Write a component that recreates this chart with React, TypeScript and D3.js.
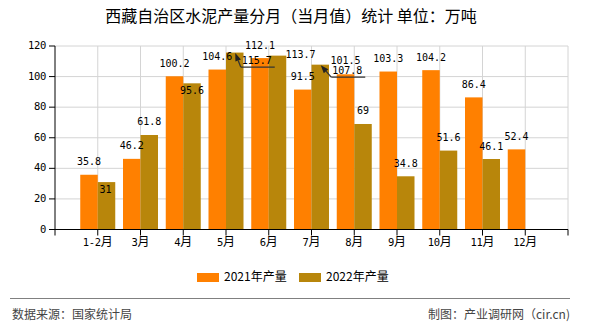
import React from 'react';
import * as d3 from 'd3';

const categories = ['1-2月', '3月', '4月', '5月', '6月', '7月', '8月', '9月', '10月', '11月', '12月'];
const values2021: (number | null)[] = [35.8, 46.2, 100.2, 104.6, 112.1, 91.5, 101.5, 103.3, 104.2, 86.4, 52.4];
const values2022: (number | null)[] = [31, 61.8, 95.6, 115.7, 113.7, 107.8, 69, 34.8, 51.6, 46.1, null];
const yTicks = [0, 20, 40, 60, 80, 100, 120];
const seriesNames = ['2021年产量', '2022年产量'];

const COLORS = ['#FF8000', '#B8860B'];
const NUM_FONT = "'DejaVu Sans Mono', monospace";
const CJK_FONT = "'Noto Sans CJK SC', sans-serif";

// label layout tweaks (collision avoidance in the original)
const labelTweaks: Record<string, { dx: number; dy: number; arrow?: boolean }> = {
  '0-6': { dx: 0, dy: -1 },
  '1-0': { dx: -1, dy: 20.5 },
  '1-2': { dx: 0, dy: 20.5 },
  '1-3': { dx: 22, dy: 21, arrow: true },
  '1-4': { dx: 23, dy: 12 },
  '1-5': { dx: 27, dy: 19, arrow: true },
};

export default function App() {
  const left = 55, right = 568, top = 46, bottom = 229.5;
  const x = d3.scaleLinear().domain([0, categories.length + 1]).range([left, right]);
  const y = d3.scaleLinear().domain([0, 120]).range([bottom, top]);
  const barW = 17.5;
  const series = [values2021, values2022];

  const gridX = d3.range(1, categories.length + 2);

  return (
    <svg width={590} height={330} style={{ position: 'absolute', left: 0, top: 0, background: '#fff' }}>
      {/* title */}
      <text x={291} y={18} textAnchor="middle" dominantBaseline="middle" fontFamily={CJK_FONT} fontSize={16} fill="#000">
        西藏自治区水泥产量分月（当月值）统计 单位：万吨
      </text>

      {/* grid */}
      {yTicks.filter(t => t > 0).map(t => (
        <line key={'gy' + t} x1={left} x2={right} y1={y(t)} y2={y(t)} stroke="#d4d4d4" strokeWidth={1} />
      ))}
      {gridX.map(i => (
        <line key={'gx' + i} x1={x(i)} x2={x(i)} y1={top} y2={bottom} stroke="#d4d4d4" strokeWidth={1} />
      ))}

      {/* bars */}
      {series.map((vals, s) =>
        vals.map((v, i) =>
          v == null ? null : (
            <rect
              key={`b${s}-${i}`}
              x={s === 0 ? x(i + 1) - barW : x(i + 1)}
              y={y(v)}
              width={barW}
              height={bottom - y(v)}
              fill={COLORS[s]}
            />
          )
        )
      )}

      {/* axes */}
      <line x1={left} x2={left} y1={top} y2={bottom} stroke="#000" strokeWidth={1} />
      <line x1={left} x2={right} y1={bottom} y2={bottom} stroke="#000" strokeWidth={1} />
      {yTicks.map(t => (
        <g key={'yt' + t}>
          <line x1={left - 6} x2={left} y1={y(t)} y2={y(t)} stroke="#000" />
          <text x={left - 9} y={y(t)} textAnchor="end" dominantBaseline="middle" fontFamily={NUM_FONT} fontSize={10.5} letterSpacing={-0.3} fill="#000">
            {t}
          </text>
        </g>
      ))}
      {[0, ...gridX].map(i => (
        <line key={'xt' + i} x1={x(i)} x2={x(i)} y1={bottom} y2={bottom + 6} stroke="#000" />
      ))}
      {categories.map((c, i) => {
        const num = c.replace('月', '');
        return (
          <text key={'xl' + i} x={x(i + 1)} y={243} textAnchor="middle" dominantBaseline="middle" fill="#000">
            <tspan fontFamily={NUM_FONT} fontSize={10.5} letterSpacing={-0.3}>{num}</tspan>
            <tspan fontFamily={CJK_FONT} fontSize={12}>月</tspan>
          </text>
        );
      })}

      {/* data labels */}
      {series.map((vals, s) =>
        vals.map((v, i) => {
          if (v == null) return null;
          const cx = s === 0 ? x(i + 1) - barW / 2 : x(i + 1) + barW / 2;
          const barTop = y(v);
          const tw = labelTweaks[`${s}-${i}`] || { dx: 0, dy: 0 };
          const lx = cx + tw.dx;
          const ly = barTop - 12.5 + tw.dy;
          let arrow = null;
          if (tw.arrow) {
            const sx = lx - 16, sy = ly + 6;
            const tx = cx + 0.5, ty = barTop + 0.5;
            const ang = Math.atan2(ty - sy, tx - sx);
            const L = 8, H = 3;
            const bx = tx - L * Math.cos(ang), by = ty - L * Math.sin(ang);
            const p1 = [bx + H * Math.sin(ang), by - H * Math.cos(ang)];
            const p2 = [bx - H * Math.sin(ang), by + H * Math.cos(ang)];
            arrow = (
              <g>
                <line x1={sx} y1={sy} x2={lx + 18} y2={sy} stroke="#333" strokeWidth={1.3} />
                <line x1={sx} y1={sy} x2={bx} y2={by} stroke="#333" strokeWidth={1.3} />
                <polygon points={`${tx},${ty} ${p1[0]},${p1[1]} ${p2[0]},${p2[1]}`} fill="#222" />
              </g>
            );
          }
          return (
            <g key={`l${s}-${i}`}>
              {arrow}
              <text x={lx} y={ly} textAnchor="middle" dominantBaseline="middle" fontFamily={NUM_FONT} fontSize={10} fill="#000">
                {String(v)}
              </text>
            </g>
          );
        })
      )}

      {/* legend */}
      {seriesNames.map((n, s) => (
        <g key={'lg' + s} transform={`translate(${197 + s * 102},0)`}>
          <rect x={0} y={273} width={22} height={9} fill={COLORS[s]} />
          <text x={27} y={277.5} dominantBaseline="middle" fontFamily={CJK_FONT} fontSize={12} fill="#000">{n}</text>
        </g>
      ))}

      {/* footer */}
      <line x1={10} x2={570} y1={298.5} y2={298.5} stroke="#808080" strokeWidth={1} />
      <text x={12} y={316} dominantBaseline="middle" fontFamily={CJK_FONT} fontSize={12} fill="#444">数据来源：国家统计局</text>
      <text x={570} y={316} textAnchor="end" dominantBaseline="middle" fontFamily={CJK_FONT} fontSize={12} fill="#444">制图：产业调研网（cir.cn)</text>
    </svg>
  );
}
